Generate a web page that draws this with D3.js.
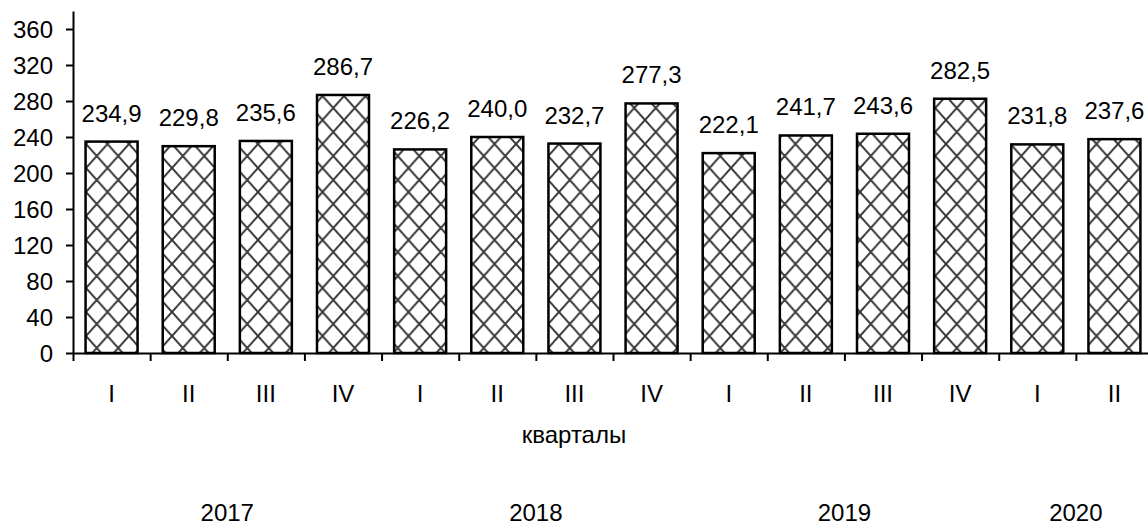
<!DOCTYPE html>
<html>
<head>
<meta charset="utf-8">
<script src="https://cdn.jsdelivr.net/npm/d3@7"></script>
<style>
  body { margin: 0; background: #fff; }
  text { font-family: Arial, "Liberation Sans", sans-serif; fill: #000; }
</style>
</head>
<body>
<div id="chart"></div>
<script>
// data
const quarters = ["I", "II", "III", "IV", "I", "II", "III", "IV", "I", "II", "III", "IV", "I", "II"];
const values = [234.9, 229.8, 235.6, 286.7, 226.2, 240.0, 232.7, 277.3, 222.1, 241.7, 243.6, 282.5, 231.8, 237.6];
const years = ["2017", "2018", "2019", "2020"];
const quartersPerYear = [4, 4, 4, 2];
const yTicks = [0, 40, 80, 120, 160, 200, 240, 280, 320, 360];
const axisTitle = "кварталы";

const svgWidth = 1148, svgHeight = 528;
const plotLeft = 73, plotRight = 1153, plotTop = 11, plotBottom = 353;
const pad = 0.326;

const svg = d3.select("#chart")
    .append("svg")
    .attr("width", svgWidth)
    .attr("height", svgHeight);

// crosshatch fill like the excel pattern
const pw = 21.5, ph = 24;
const pattern = svg.append("defs")
    .append("pattern")
    .attr("id", "hatch")
    .attr("patternUnits", "userSpaceOnUse")
    .attr("width", pw)
    .attr("height", ph);
pattern.append("rect").attr("width", pw).attr("height", ph).attr("fill", "#fff");
pattern.append("path")
    .attr("d", `M0,0L${pw},${ph}M${pw},0L0,${ph}`)
    .attr("stroke", "#3a3a3a")
    .attr("stroke-width", 2);

const x = d3.scaleBand()
    .domain(d3.range(values.length))
    .range([plotLeft, plotRight])
    .paddingInner(pad)
    .paddingOuter(pad / 2);

const y = d3.scaleLinear()
    .domain([0, 380])
    .range([plotBottom, plotTop]);

const step = x.step();
const boundary = i => x(0) - step * pad / 2 + i * step;

// bars
svg.selectAll(".bar")
    .data(values)
    .join("rect")
    .attr("class", "bar")
    .attr("x", (d, i) => x(i))
    .attr("y", d => y(d))
    .attr("width", x.bandwidth())
    .attr("height", d => y(0) - y(d))
    .attr("fill", "url(#hatch)")
    .attr("stroke", "#000")
    .attr("stroke-width", 2.5);

// value labels
const fmt = d3.format(".1f");
svg.selectAll(".val")
    .data(values)
    .join("text")
    .attr("class", "val")
    .attr("x", (d, i) => x(i) + x.bandwidth() / 2)
    .attr("y", d => y(d) - 20)
    .attr("text-anchor", "middle")
    .style("font-size", "24px")
    .text(d => fmt(d).replace(".", ","));

// y axis
const yAxis = svg.append("g")
    .attr("transform", `translate(${plotLeft},0)`)
    .call(d3.axisLeft(y).tickValues(yTicks).tickSize(7).tickSizeOuter(0).tickPadding(13));
yAxis.selectAll("path, line").attr("stroke", "#000").attr("stroke-width", 2);
yAxis.selectAll("text").style("font-size", "24px").attr("dy", "0.35em");

// x axis with ticks between categories
const xb = d3.scaleLinear().domain([0, values.length]).range([boundary(0), boundary(values.length)]);
const xAxis = svg.append("g")
    .attr("transform", `translate(0,${plotBottom})`)
    .call(d3.axisBottom(xb).tickValues(d3.range(values.length + 1)).tickSize(8).tickSizeOuter(0).tickFormat(""));
xAxis.selectAll("path, line").attr("stroke", "#000").attr("stroke-width", 2);

// quarter labels
svg.selectAll(".q")
    .data(quarters)
    .join("text")
    .attr("class", "q")
    .attr("x", (d, i) => x(i) + x.bandwidth() / 2)
    .attr("y", 402)
    .attr("text-anchor", "middle")
    .style("font-size", "24px")
    .text(d => d);

svg.append("text")
    .attr("x", svgWidth / 2)
    .attr("y", 443)
    .attr("text-anchor", "middle")
    .style("font-size", "24px")
    .text(axisTitle);

// year labels centred under their quarters
const starts = d3.cumsum([0].concat(quartersPerYear));
svg.selectAll(".yr")
    .data(years)
    .join("text")
    .attr("class", "yr")
    .attr("x", (d, i) => (boundary(starts[i]) + boundary(starts[i] + quartersPerYear[i])) / 2)
    .attr("y", 521)
    .attr("text-anchor", "middle")
    .style("font-size", "24px")
    .text(d => d);
</script>
</body>
</html>
